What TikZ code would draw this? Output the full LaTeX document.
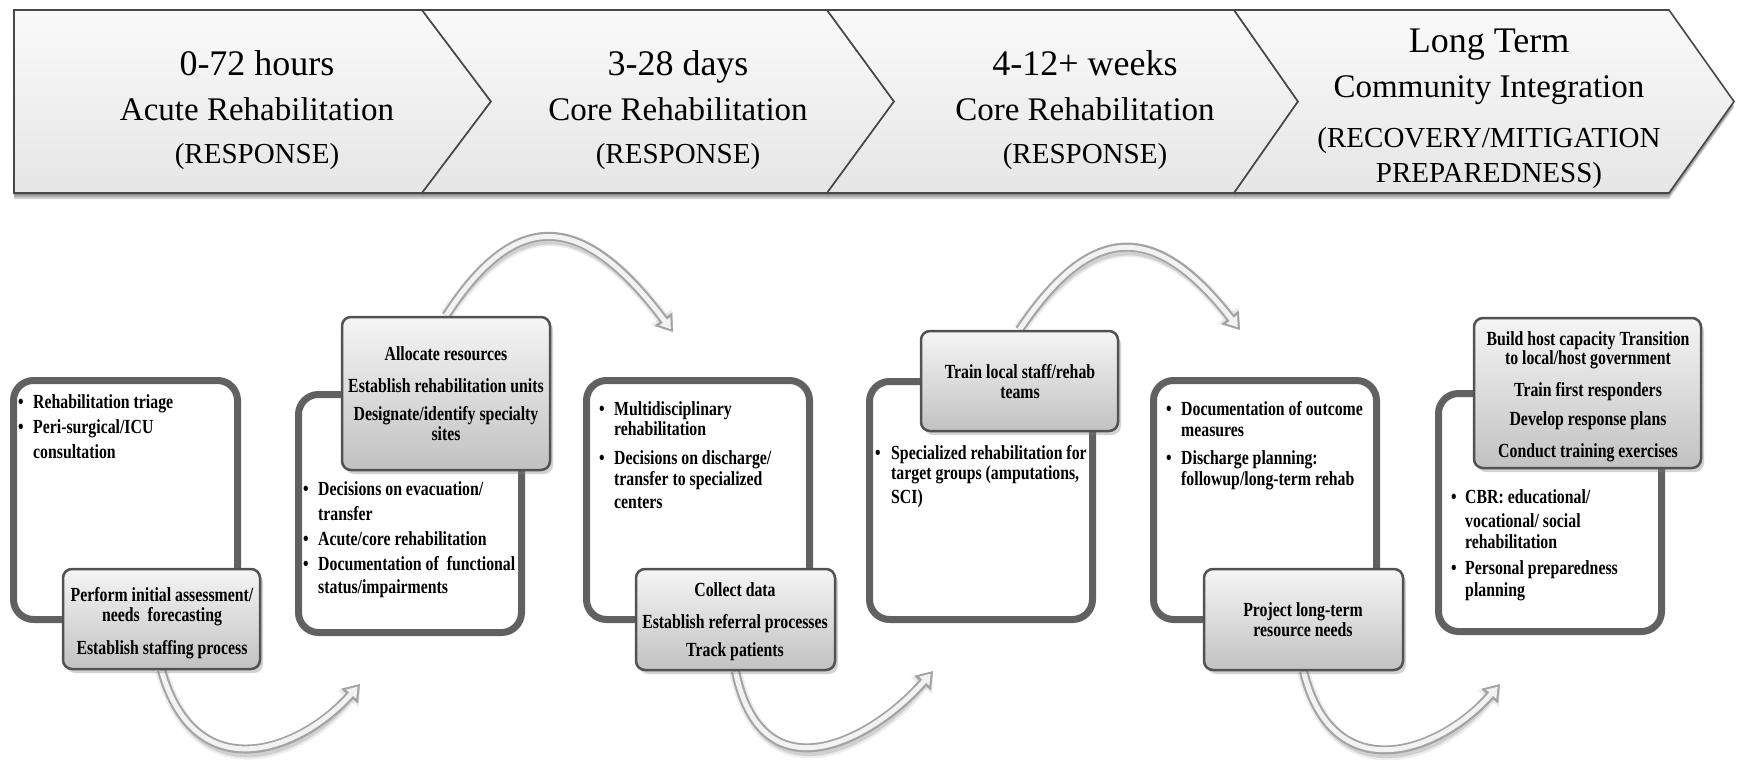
\documentclass[tikz,border=0pt]{standalone}
\usepackage{fontspec}
\setmainfont{Liberation Serif}
\newfontfamily\boxfont[FakeStretch=0.79]{Liberation Serif}
\usetikzlibrary{arrows.meta,shadows}
\pgfdeclarelayer{bglayer}
\pgfdeclarelayer{arrowlayer}
\pgfsetlayers{bglayer,arrowlayer,main}
\tikzset{
  chev/.style={draw=black!72, line width=1.6pt, top color=black!2, bottom color=black!10},
  chevshadow/.style={fill=black, opacity=0.18},
  whitebox/.style={draw=black!62, line width=7pt, fill=white, rounded corners=20pt, inner sep=0pt,
    drop shadow={opacity=0.22, shadow xshift=2pt, shadow yshift=-3pt}},
  greybox/.style={draw=black!68, line width=2.5pt, top color=black!4, bottom color=black!24,
    rounded corners=9pt, inner sep=0pt,
    drop shadow={opacity=0.35, shadow xshift=3pt, shadow yshift=-4pt}},
  h1/.style={font=\fontsize{36}{40}\selectfont, anchor=base, inner sep=0pt},
  h2/.style={font=\fontsize{33}{38}\selectfont, anchor=base, inner sep=0pt},
  h3/.style={font=\fontsize{29}{34}\selectfont, anchor=base, inner sep=0pt},
  btl/.style={font=\boxfont\bfseries\fontsize{20}{23}\selectfont, anchor=base west, inner sep=0pt},
  btc/.style={font=\boxfont\bfseries\fontsize{20}{23}\selectfont, anchor=base, inner sep=0pt},
  bul/.style={font=\boxfont\bfseries\fontsize{20}{23}\selectfont, anchor=base, inner sep=0pt},
  arrowshade/.style={line width=13pt, draw=black, opacity=0.07,
    -{Triangle[length=19pt,width=26pt]}},
  arrowshadeb/.style={line width=9pt, draw=black, opacity=0.12,
    -{Triangle[length=16pt,width=21pt]}},
  arrowout/.style={line width=9pt, draw=black!36, -{Triangle[length=16pt,width=21pt]}},
  arrowin/.style={line width=5pt, draw=black!5, shorten >=3.5pt, -{Triangle[length=10pt,width=13pt]}},
}
\newcommand\tubearrow[1]{%
  \begin{scope}[shift={(2,5)}]\draw[arrowshade] #1;\draw[arrowshadeb] #1;\end{scope}
  \draw[arrowout] #1;
  \draw[arrowin] #1;}
\begin{document}
\begin{tikzpicture}[x=1pt,y=-1pt]
\useasboundingbox (0,0) rectangle (1741,760);
\begin{pgfonlayer}{bglayer}
\fill[white] (0,0) rectangle (1741,760);
\end{pgfonlayer}

% ---------- header chevrons ----------
\foreach \s in {2,4,6}{
  \fill[chevshadow, shift={(0,\s)}] (14,10) -- (422,10) -- (491,101.5) -- (422,193) -- (14,193) -- cycle;
  \fill[chevshadow, shift={(0,\s)}] (422,10) -- (827,10) -- (894,101.5) -- (827,193) -- (422,193) -- (491,101.5) -- cycle;
  \fill[chevshadow, shift={(0,\s)}] (827,10) -- (1234,10) -- (1298,101.5) -- (1234,193) -- (827,193) -- (894,101.5) -- cycle;
  \fill[chevshadow, shift={(0,\s)}] (1234,10) -- (1669,10) -- (1734,101.5) -- (1669,193) -- (1234,193) -- (1298,101.5) -- cycle;
}
\path[chev] (14,10) -- (422,10) -- (491,101.5) -- (422,193) -- (14,193) -- cycle;
\path[chev] (422,10) -- (827,10) -- (894,101.5) -- (827,193) -- (422,193) -- (491,101.5) -- cycle;
\path[chev] (827,10) -- (1234,10) -- (1298,101.5) -- (1234,193) -- (827,193) -- (894,101.5) -- cycle;
\path[chev] (1234,10) -- (1669,10) -- (1734,101.5) -- (1669,193) -- (1234,193) -- (1298,101.5) -- cycle;

\node[h1] (c1a) at (257,75) {0-72 hours};
\node[h2] (c1b) at (257,120) {Acute Rehabilitation};
\node[h3] (c1c) at (257,163) {(RESPONSE)};
\node[h1] (c2a) at (678,75) {3-28 days};
\node[h2] (c2b) at (678,120) {Core Rehabilitation};
\node[h3] (c2c) at (678,163) {(RESPONSE)};
\node[h1] (c3a) at (1085,76) {4-12+ weeks};
\node[h2] (c3b) at (1085,120) {Core Rehabilitation};
\node[h3] (c3c) at (1085,163) {(RESPONSE)};
\node[h1] (c4a) at (1489,53) {Long Term};
\node[h2] (c4b) at (1489,98) {Community Integration};
\node[h3] (c4c) at (1489,147) {(RECOVERY/MITIGATION};
\node[h3] (c4d) at (1489,182) {PREPAREDNESS)};

% ---------- white boxes ----------
\node[whitebox, minimum width=224pt, minimum height=239pt] (w1) at (125.5,500) {};
\node[whitebox, minimum width=223pt, minimum height=238pt] (w2) at (410,513.5) {};
\node[whitebox, minimum width=223pt, minimum height=239pt] (w3) at (698,500) {};
\node[whitebox, minimum width=223pt, minimum height=238pt] (w4) at (981,500.5) {};
\node[whitebox, minimum width=223pt, minimum height=239pt] (w5) at (1265,500) {};
\node[whitebox, minimum width=223pt, minimum height=238pt] (w6) at (1550,512.5) {};

% ---------- grey boxes ----------
\node[greybox, minimum width=197pt, minimum height=100pt] (g1) at (161.5,619) {};
\node[greybox, minimum width=208pt, minimum height=153pt] (g2) at (446,393.5) {};
\node[greybox, minimum width=199pt, minimum height=101pt] (g3) at (735.5,619.5) {};
\node[greybox, minimum width=197pt, minimum height=100pt] (g4) at (1019.5,381) {};
\node[greybox, minimum width=199pt, minimum height=101pt] (g5) at (1303.5,619.5) {};
\node[greybox, minimum width=227pt, minimum height=150pt] (g6) at (1587.5,393) {};

% ---------- curved arrows ----------
\coordinate (t1) at (673,332);
\coordinate (t2) at (1240,330);
\coordinate (t3) at (360,684);
\coordinate (t4) at (933,671);
\coordinate (t5) at (1500,684);
\begin{pgfonlayer}{arrowlayer}
\tubearrow{(g2.north) .. controls (521,199) and (589,220) .. (t1)}
\tubearrow{(g4.north) .. controls (1094,218) and (1158,225) .. (t2)}
\tubearrow{(g1.south) .. controls (195,790) and (300,752) .. (t3)}
\tubearrow{(g3.south) .. controls (762,800) and (873,740) .. (t4)}
\tubearrow{(g5.south) .. controls (1333,791) and (1440,753) .. (t5)}
\end{pgfonlayer}

% ---------- texts: box 1 ----------
\node[bul] (w1b1) at (21,408) {•};
\node[btl] (w1t1) at (33,408) {Rehabilitation triage};
\node[bul] (w1b2) at (21,433) {•};
\node[btl] (w1t2) at (33,433) {Peri-surgical/ICU};
\node[btl] (w1t3) at (33,458) {consultation};
\node[btc] (g1t1) at (162,601) {Perform initial assessment/};
\node[btc] (g1t2) at (162,621) {needs\ \ forecasting};
\node[btc] (g1t3) at (162,654) {Establish staffing process};

% ---------- texts: box 2 ----------
\node[btc] (g2t1) at (446,360) {Allocate resources};
\node[btc] (g2t2) at (446,392) {Establish rehabilitation units};
\node[btc] (g2t3) at (446,420) {Designate/identify specialty};
\node[btc] (g2t4) at (446,440) {sites};
\node[bul] (w2b1) at (306,495) {•};
\node[btl] (w2t1) at (318,495) {Decisions on evacuation/};
\node[btl] (w2t2) at (318,520) {transfer};
\node[bul] (w2b2) at (306,545) {•};
\node[btl] (w2t3) at (318,545) {Acute/core rehabilitation};
\node[bul] (w2b3) at (306,570) {•};
\node[btl] (w2t4) at (318,570) {Documentation of\ \ functional};
\node[btl] (w2t5) at (318,593) {status/impairments};

% ---------- texts: box 3 ----------
\node[bul] (w3b1) at (602,415) {•};
\node[btl] (w3t1) at (614,415) {Multidisciplinary};
\node[btl] (w3t2) at (614,435) {rehabilitation};
\node[bul] (w3b2) at (602,464) {•};
\node[btl] (w3t3) at (614,464) {Decisions on discharge/};
\node[btl] (w3t4) at (614,485) {transfer to specialized};
\node[btl] (w3t5) at (614,508) {centers};
\node[btc] (g3t1) at (735,596) {Collect data};
\node[btc] (g3t2) at (735,628) {Establish referral processes};
\node[btc] (g3t3) at (735,656) {Track patients};

% ---------- texts: box 4 ----------
\node[btc] (g4t1) at (1020,378) {Train local staff/rehab};
\node[btc] (g4t2) at (1020,398) {teams};
\node[bul] (w4b1) at (878,459) {•};
\node[btl] (w4t1) at (891,459) {Specialized rehabilitation for};
\node[btl] (w4t2) at (891,479) {target groups (amputations,};
\node[btl] (w4t3) at (891,503) {SCI)};

% ---------- texts: box 5 ----------
\node[bul] (w5b1) at (1169,415) {•};
\node[btl] (w5t1) at (1181,415) {Documentation of outcome};
\node[btl] (w5t2) at (1181,436) {measures};
\node[bul] (w5b2) at (1169,464) {•};
\node[btl] (w5t3) at (1181,464) {Discharge planning:};
\node[btl] (w5t4) at (1181,485) {followup/long-term rehab};
\node[btc] (g5t1) at (1303,616) {Project long-term};
\node[btc] (g5t2) at (1303,636) {resource needs};

% ---------- texts: box 6 ----------
\node[btc] (g6t1) at (1588,345) {Build host capacity Transition};
\node[btc] (g6t2) at (1588,364) {to local/host government};
\node[btc] (g6t3) at (1588,396) {Train first responders};
\node[btc] (g6t4) at (1588,425) {Develop response plans};
\node[btc] (g6t5) at (1588,457) {Conduct training exercises};
\node[bul] (w6b1) at (1454,503) {•};
\node[btl] (w6t1) at (1465,503) {CBR: educational/};
\node[btl] (w6t2) at (1465,527) {vocational/ social};
\node[btl] (w6t3) at (1465,548) {rehabilitation};
\node[bul] (w6b2) at (1454,574) {•};
\node[btl] (w6t4) at (1465,574) {Personal preparedness};
\node[btl] (w6t5) at (1465,596) {planning};
\end{tikzpicture}
\end{document}
